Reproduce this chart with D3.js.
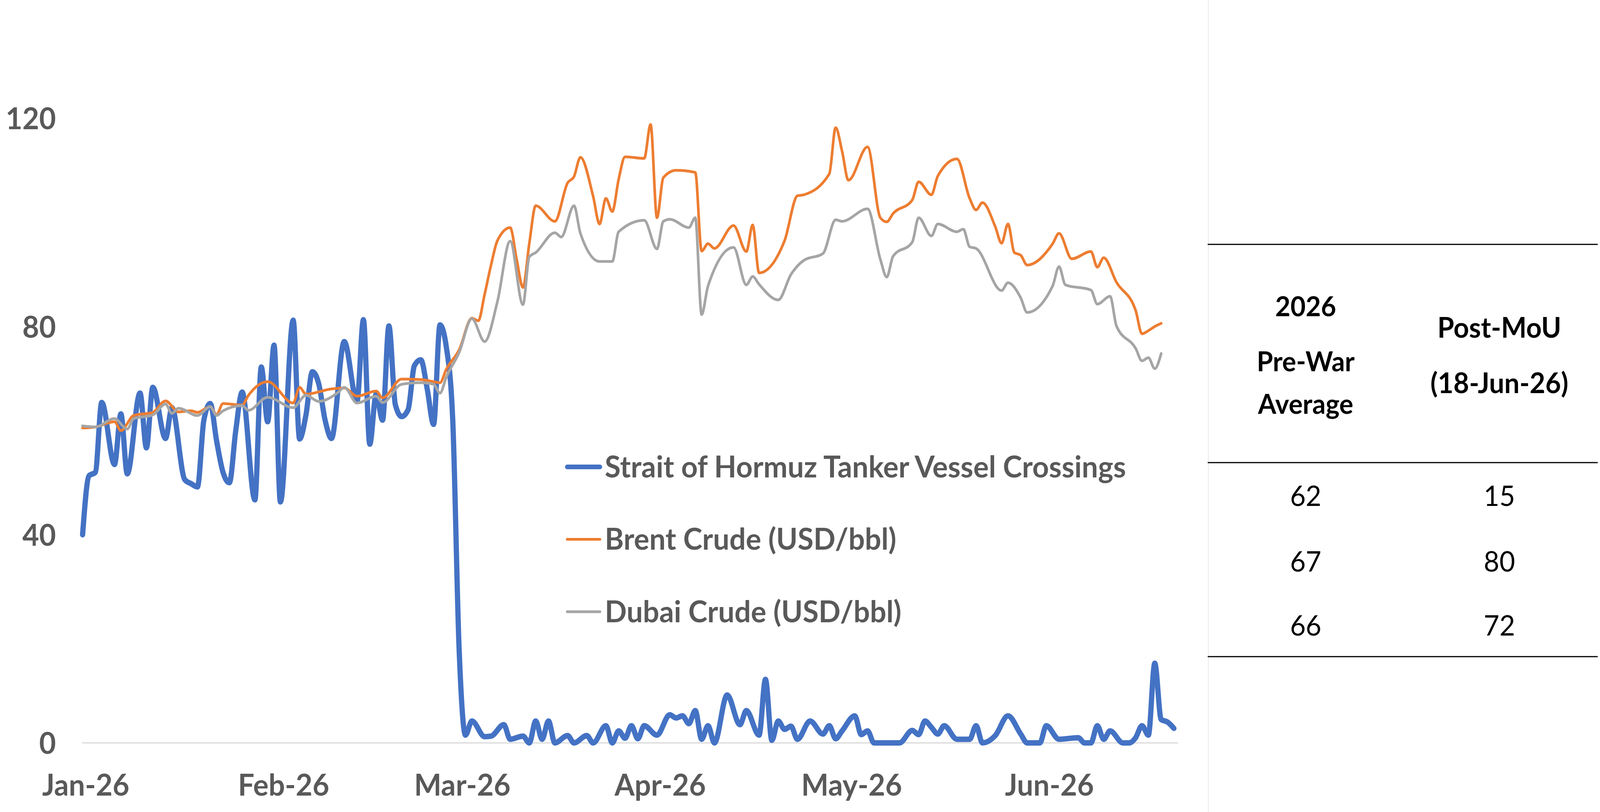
<!DOCTYPE html>
<html lang="en">
<head>
	<meta charset="utf-8">
	<title>Hormuz crossings and crude prices</title>
	<script src="https://d3js.org/d3.v7.min.js"></script>
	<style>
		html, body {margin:0; padding:0; height:100%; overflow:hidden; background:#fff;}
		#chart {width:100vw; height:100vh;}
		svg text {font-family: Lato, "Open Sans", sans-serif;}
	</style>
</head>
<body>
	<div id="chart"></div>
	<script>
		// days are counted from 1 Jan 2026 (0 = 1 Jan)
		const hormuzDays = [0,1,2,3,5,6,7,9,10,11,13,14,16,17,18,19,20,21,22,23,24,25,27,28,29,30,31,33,34,35,36,37,38,39,41,43,44,45,46,47,48,49,50,51,52,53,54,55,56,57,58,59,
			60,61,63,64,66,67,69,70,71,72,73,74,76,77,79,80,82,83,84,85,86,87,88,90,92,93,94,95,96,97,98,99,101,103,104,106,107,108,109,110,111,112,114,116,117,118,119,
			121,122,123,124,128,130,131,132,133,134,135,137,139,140,141,143,145,147,148,150,151,153,156,157,158,159,160,161,163,164,165,166,167,168,169,170,171];
		const hormuzValues = [40,51.3,52,65.4,53.5,63.2,51.7,67.2,56.7,68.3,58.5,64.4,50.6,49.8,49.2,62,65.2,58,52,50,60,67.4,46.7,72.2,61.7,76.4,46.3,81.2,58.4,63,71.3,69,62,58.5,77.1,65.6,81.3,57.4,67,62,80.1,65,62.7,64,72.5,73.6,68,61.2,80.3,76,62,18,
			1.5,4.2,1.2,1.3,3.5,0.7,1.3,0,4.2,0.7,4.2,0,1.4,0,1.4,0,3.3,0,2.3,0.9,3.3,0.8,3.3,1.5,5.4,4.8,5.2,3.7,6.2,0.7,3.3,0,9.2,3.5,6.2,1.5,12.2,0.5,4.2,2.6,3.2,0.7,4.2,1.7,3.3,0.8,2.3,
			5.2,1.6,2.3,0,0,2.4,1.6,4.2,3.0,1.7,3.3,0.7,0.7,3.3,0,1.4,5.2,1.7,0,0,3.3,0.7,1.0,0,0,3.3,0.7,2.3,0,0,1,3.3,1.5,15.3,4.5,4.0,2.8];

		const brentDays = [0,2,5,6,8,11,13,15,17,18,20,21,22,25,26,29,33,34,35,39,41,43,46,47,50,53,55,56,57,59,
			61,62,63,64,65,67,68,69,70,71,74,76,77,78,80,81,82,83,84,85,88,89,90,91,93,96,97,98,99,102,104,105,106,110,112,113,117,118,119,
			120,123,125,126,127,130,131,133,134,137,139,140,141,143,144,145,146,147,148,152,153,155,158,159,160,162,165,166,167,168,169];
		const brentValues = [60.5,60.7,61.7,60.0,62.9,63.5,65.7,63.6,63.8,63.5,64.6,63.1,65.2,64.9,66.8,69.4,65.3,68.3,67,68,68.2,66.6,67.6,66.3,69.9,69.8,69.4,69.2,71.8,75.5,
			81.6,81.1,86.2,91.8,96.5,99,93,87.5,96,103.2,100.2,107.6,108.8,112.5,105,99.7,104.6,102.1,108.3,112.6,112.3,118.8,100.9,108.6,110,109.6,94.5,95.9,95,99.4,94.4,99.5,90.3,96.5,105.1,105.3,109.3,118.2,113.7,
			108.1,114.5,100.9,100.1,101.7,104.3,107.8,105.3,108.9,112.2,104.6,102.4,103.8,99.2,96,99.7,94.2,93.7,91.8,95.9,97.9,93,94.4,91.4,93.2,88.5,83.1,78.6,79.2,80,80.6];

		const dubaiDays = [0,2,5,7,8,11,13,14,15,18,20,21,22,25,26,29,33,35,37,40,41,43,46,47,50,53,55,56,57,59,
			61,63,65,67,69,70,71,74,75,77,78,81,83,84,88,90,91,92,95,96,97,98,102,104,105,106,109,111,113,116,118,119,
			123,125,126,127,130,131,133,134,137,138,139,140,144,145,147,148,152,153,154,158,159,161,162,165,166,167,168,169];
		const dubaiValues = [60.9,60.7,62.3,60.3,62.3,63,65.1,63.3,64.3,62.9,64.6,62.9,63.8,64.8,63.9,66.4,64.4,66.8,65.6,67.3,68.3,65.3,66.6,65.4,68.9,69.2,68.9,67.2,70.3,75,
			81.5,77.1,84.8,96.4,84.2,93.4,94.2,98,97.2,103.2,97.9,92.5,92.5,98.2,100.4,94.9,100.2,100.6,99,100.9,82.3,87.8,95.2,88,89.6,88.1,85.1,90,92.7,94,100.5,100.2,
			102.6,92.9,89.5,93.5,96.2,100.9,97.4,99.7,98.2,98.7,95.3,95,86.9,88.4,85.5,82.7,87.8,91.5,88,87,84.3,85.8,80.1,75.8,73.4,74,71.9,74.8];

		const seriesNames = ["Strait of Hormuz Tanker Vessel Crossings", "Brent Crude (USD/bbl)", "Dubai Crude (USD/bbl)"];
		const seriesColors = ["#4472C4", "#ED7D31", "#A5A5A5"];
		const monthTicks = ["2026-01-01", "2026-02-01", "2026-03-01", "2026-04-01", "2026-05-01", "2026-06-01"];
		const yTicks = [0, 40, 80, 120];

		const headLeft = ["2026", "Pre-War", "Average"];
		const headRight = ["Post-MoU", "(18-Jun-26)"];
		const preWarAvg = [62, 67, 66];
		const postMoU = [15, 80, 72];

		const width = 4262, height = 2080;
		const start = new Date(2026, 0, 1);
		const toDate = function (d) { return d3.timeDay.offset(start, d); };

		// drawn in a 4262x2080 box, stretched to whatever the window really is
		const svg = d3.select("#chart").append("svg")
			.attr("viewBox", "0 0 " + width + " " + height)
			.attr("preserveAspectRatio", "none")
			.attr("width", "100%")
			.attr("height", "100%")
			.style("display", "block");

		const x = d3.scaleTime()
			.domain([start, toDate(171)])
			.range([220, 3127]);
		const y = d3.scaleLinear()
			.domain([0, 120])
			.range([1903, 303]);

		// axis line at zero
		svg.append("line")
			.attr("x1", x.range()[0] - 1).attr("x2", x.range()[1] + 11)
			.attr("y1", y(0)).attr("y2", y(0))
			.attr("stroke", "#D9D9D9").attr("stroke-width", 3);

		// y labels
		const yAxis = svg.append("g")
			.attr("transform", "translate(" + x.range()[0] + ",0)")
			.call(d3.axisLeft(y).tickValues(yTicks).tickSize(0).tickPadding(71));
		yAxis.select(".domain").remove();
		yAxis.selectAll("text")
			.attr("dy", "0.36em")
			.style("font-size", "77px").style("font-weight", "bold").style("fill", "#595959");

		// x labels
		const xAxis = svg.append("g")
			.attr("transform", "translate(0," + y(0) + ")")
			.call(d3.axisBottom(x)
				.tickValues(monthTicks.map(function (s) { return d3.timeParse("%Y-%m-%d")(s); }))
				.tickFormat(d3.timeFormat("%b-%y"))
				.tickSize(0).tickPadding(80));
		xAxis.select(".domain").remove();
		xAxis.selectAll("text")
			.attr("dx", 8)
			.style("font-size", "77px").style("font-weight", "bold").style("fill", "#595959");

		// lines
		const line = d3.line()
			.x(function (d) { return x(toDate(d[0])); })
			.y(function (d) { return y(d[1]); })
			.curve(d3.curveMonotoneX);

		const series = [
			{days: hormuzDays, values: hormuzValues, w: 14},
			{days: brentDays, values: brentValues, w: 7},
			{days: dubaiDays, values: dubaiValues, w: 7}
		];
		series.forEach(function (s, i) {
			svg.append("path")
				.datum(d3.zip(s.days, s.values))
				.attr("fill", "none")
				.attr("stroke", seriesColors[i])
				.attr("stroke-width", s.w)
				.attr("stroke-linejoin", "round")
				.attr("stroke-linecap", "round")
				.attr("d", line);
		});

		// legend
		const legendRow = d3.scalePoint().domain(d3.range(3)).range([1196, 1567]);
		const lg = svg.selectAll(".legend")
			.data(seriesNames)
			.enter()
			.append("g")
			.attr("class", "legend")
			.attr("transform", function (d, i) { return "translate(1506," + legendRow(i) + ")"; });
		lg.append("line")
			.attr("x1", 5).attr("x2", 92)
			.attr("stroke", function (d, i) { return seriesColors[i]; })
			.attr("stroke-width", function (d, i) { return i === 0 ? 12 : 7; })
			.attr("stroke-linecap", "round");
		lg.append("text")
			.attr("x", 105)
			.attr("dy", "0.35em")
			.style("font-size", "77px").style("font-weight", "bold").style("fill", "#595959")
			.text(function (d) { return d; });

		// table on the right
		svg.append("line")
			.attr("x1", 3219).attr("x2", 3219).attr("y1", 0).attr("y2", height)
			.attr("stroke", "#EFEFEF").attr("stroke-width", 3);
		[626, 1185, 1682].forEach(function (ly) {
			svg.append("line")
				.attr("x1", 3217).attr("x2", 4256).attr("y1", ly).attr("y2", ly)
				.attr("stroke", "#000").attr("stroke-width", 3);
		});
		const colLeft = 3478, colRight = 3994;
		svg.selectAll(".headL").data(headLeft).enter().append("text")
			.attr("x", colLeft)
			.attr("y", function (d, i) { return [810, 951, 1060][i]; })
			.attr("text-anchor", "middle")
			.style("font-size", "70px").style("font-weight", "bold").style("fill", "#000")
			.text(function (d) { return d; });
		svg.selectAll(".headR").data(headRight).enter().append("text")
			.attr("x", colRight)
			.attr("y", function (d, i) { return [865, 1007][i]; })
			.attr("text-anchor", "middle")
			.style("font-size", "72px").style("font-weight", "bold").style("fill", "#000")
			.text(function (d) { return d; });
		const rowY = [1296, 1464, 1628];
		svg.selectAll(".valL").data(preWarAvg).enter().append("text")
			.attr("x", colLeft).attr("y", function (d, i) { return rowY[i]; })
			.attr("text-anchor", "middle")
			.style("font-size", "72px").style("fill", "#000")
			.text(function (d) { return d; });
		svg.selectAll(".valR").data(postMoU).enter().append("text")
			.attr("x", colRight).attr("y", function (d, i) { return rowY[i]; })
			.attr("text-anchor", "middle")
			.style("font-size", "72px").style("fill", "#000")
			.text(function (d) { return d; });
	</script>
</body>
</html>
